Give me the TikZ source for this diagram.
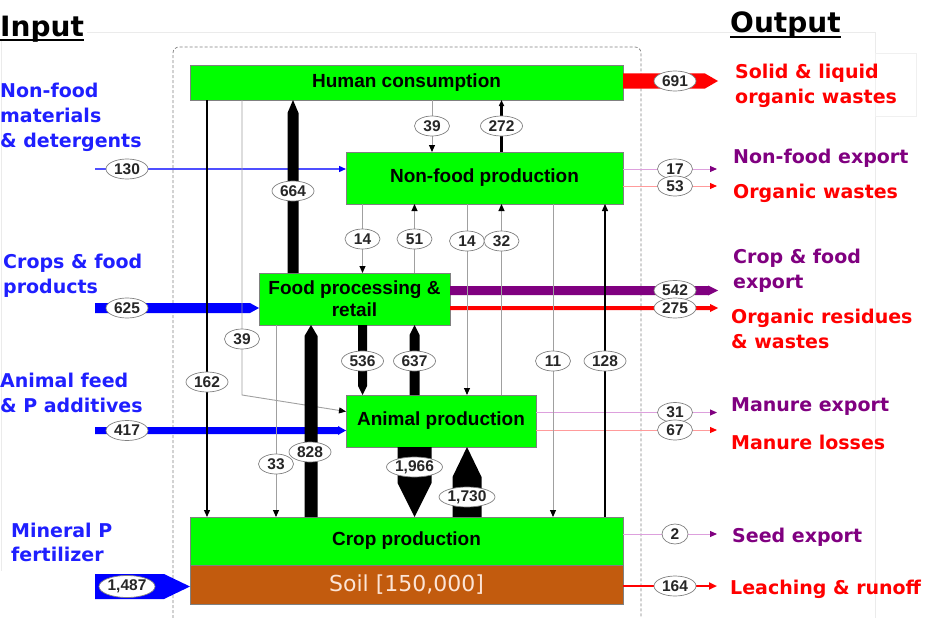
\documentclass[tikz,border=0pt]{standalone}
\usepackage{fontspec}
\setmainfont{Liberation Sans}
\newfontfamily\vfont{DejaVu Sans}
\usetikzlibrary{arrows.meta,calc,shapes.geometric}
\definecolor{gbox}{HTML}{00FF00}
\definecolor{soilc}{HTML}{C25B0E}
\definecolor{soilt}{HTML}{FCE4D6}
\definecolor{tblue}{HTML}{1F1FFF}
\definecolor{fblue}{HTML}{0000FF}
\definecolor{lblue}{HTML}{4F4FFF}
\definecolor{tred}{HTML}{FF0000}
\definecolor{tpurp}{HTML}{800080}
\definecolor{lpurp}{HTML}{DDA0DD}
\definecolor{lred}{HTML}{FF9B9B}
\definecolor{lgray}{HTML}{A0A0A0}
\definecolor{bgray}{HTML}{808080}
% #1 style, #2 start, #3 tip, #4 half width, #5 head length, #6 head half width
\newcommand\fatarrow[6]{%
  \coordinate (fah) at ($(#3)!#5!(#2)$);
  \fill[#1] ($(#2)!#4!90:(#3)$) -- ($(fah)!#4!90:(#3)$) -- ($(fah)!#6!90:(#3)$) -- (#3)
     -- ($(fah)!#6!-90:(#3)$) -- ($(fah)!#4!-90:(#3)$) -- ($(#2)!#4!-90:(#3)$) -- cycle;}
\begin{document}
\begin{tikzpicture}[x=1pt,y=-1pt,
  box/.style={draw=bgray, fill=gbox, line width=0.8pt, inner sep=0pt, outer sep=0pt,
    align=center, font=\bfseries\fontsize{19}{22}\selectfont},
  val/.style={ellipse, draw=bgray, fill=white, line width=0.7pt, inner sep=0pt,
    minimum height=20pt, minimum width=42pt, text=black!85,
    font=\bfseries\fontsize{15.5}{15.5}\selectfont},
  vals/.style={val, minimum width=35pt},
  valxs/.style={val, minimum width=26pt},
  valb/.style={val, minimum width=56pt},
  lab/.style={anchor=base west, inner sep=0pt, font=\vfont\bfseries\fontsize{19}{25}\selectfont},
  head/.style={anchor=base west, inner sep=0pt, font=\vfont\bfseries\fontsize{28}{30}\selectfont},
  gline/.style={draw=lgray, line width=0.9pt, -{Triangle[length=7pt,width=6pt,color=black]}},
  bline/.style={draw=black, line width=1.3pt, -{Triangle[length=7pt,width=6pt]}},
  pline/.style={draw=lpurp, line width=1pt, -{Triangle[length=7pt,width=6pt,color=tpurp]}},
  rline/.style={draw=lred, line width=1pt, -{Triangle[length=7pt,width=6pt,color=tred]}}
]
\useasboundingbox (0,0) rectangle (926,618);
% faint slide remnants
\draw[black!8, line width=0.6pt] (87,32) -- (875,32);
\draw[black!8, line width=0.6pt] (875,32) -- (875,618);
\draw[black!8, line width=0.6pt] (1,40) -- (1,571);
\filldraw[fill=white, draw=black!6, line width=0.6pt] (875,53) rectangle (916,116);
% dashed frame
\draw[bgray, line width=0.7pt, dash pattern=on 3pt off 2pt, rounded corners=6pt]
  (173,618) -- (173,47) -- (641,47) -- (641,618);

% headings
\node[head] (hin) at (0,37) {Input};
\draw[line width=2pt] ([yshift=-3.5pt]hin.base west) -- ([yshift=-3.5pt]hin.base east);
\node[head] (hout) at (730,33) {Output};
\draw[line width=2pt] ([yshift=-4.5pt]hout.base west) -- ([yshift=-4.5pt]hout.base east);

% boxes
\node[box, minimum width=433pt, minimum height=35pt] (hc) at (406.5,82.5) {Human consumption};
\node[box, minimum width=277pt, minimum height=52pt] (nf) at (484.5,178) {Non-food production};
\node[box, minimum width=191pt, minimum height=52pt] (fp) at (354.5,299) {Food processing \&\\retail};
\node[box, minimum width=190pt, minimum height=52pt] (an) at (441,421) {Animal production};
\node[box, minimum width=433pt, minimum height=48pt] (crop) at (406.5,541) {Crop production};
\node[box, fill=soilc, minimum width=433pt, minimum height=39pt, text=soilt,
  font=\vfont\fontsize{22}{24}\selectfont] (soil) at (406.5,584.5) {Soil [150,000]};

% left labels
\node[lab, text=tblue] (l1a) at (0,97) {Non-food};
\node[lab, text=tblue] (l1b) at (0,122) {materials};
\node[lab, text=tblue] (l1c) at (0,147) {\& detergents};
\node[lab, text=tblue] (l2a) at (3,268) {Crops \& food};
\node[lab, text=tblue] (l2b) at (3,293) {products};
\node[lab, text=tblue] (l3a) at (0,387) {Animal feed};
\node[lab, text=tblue] (l3b) at (0,412) {\& P additives};
\node[lab, text=tblue] (l4a) at (11,537) {Mineral P};
\node[lab, text=tblue] (l4b) at (11,561) {fertilizer};
% right labels
\node[lab, text=tred] (r1a) at (735,78) {Solid \& liquid};
\node[lab, text=tred] (r1b) at (735,103) {organic wastes};
\node[lab, text=tpurp] (r2) at (733,163) {Non-food export};
\node[lab, text=tred] (r3) at (733,198) {Organic wastes};
\node[lab, text=tpurp] (r4a) at (733,263) {Crop \& food};
\node[lab, text=tpurp] (r4b) at (733,288) {export};
\node[lab, text=tred] (r5a) at (731,323) {Organic residues};
\node[lab, text=tred] (r5b) at (731,348) {\& wastes};
\node[lab, text=tpurp] (r6) at (731,411) {Manure export};
\node[lab, text=tred] (r7) at (731,449) {Manure losses};
\node[lab, text=tpurp] (r8) at (732,542) {Seed export};
\node[lab, text=tred] (r9) at (730,594) {Leaching \& runoff};

% coordinates
\coordinate (s130) at (95,169);
\coordinate (s625) at (95,308);
\coordinate (s417) at (95,430.5);
\coordinate (s1487) at (95,586.5);
\coordinate (o691) at (718,81);
\coordinate (o17) at (717,169);
\coordinate (o53) at (717,186);
\coordinate (o542) at (718,290.5);
\coordinate (o275) at (718,308);
\coordinate (o31) at (717,412.5);
\coordinate (o67) at (717,430);
\coordinate (o2) at (717,534);
\coordinate (o164) at (717,586);
\coordinate (x162) at (207,0);
\coordinate (k39) at (242,395);
\coordinate (t39) at (0,411.5);
\coordinate (x33) at (276,0);
\coordinate (x664) at (293,0);
\coordinate (x828) at (311,0);
\coordinate (x363) at (362.5,0);
\coordinate (x414) at (414.5,0);
\coordinate (x432) at (432,0);
\coordinate (x467) at (467,0);
\coordinate (x501) at (501.5,0);
\coordinate (x553) at (553,0);
\coordinate (x605) at (605,0);

% input flows
\coordinate (e625) at (fp.west |- s625);
\fatarrow{fblue}{s625}{e625}{5pt}{9pt}{5pt}
\coordinate (e417) at (an.west |- s417);
\fatarrow{fblue}{s417}{e417}{3.5pt}{8pt}{4.5pt}
\coordinate (e1487) at (soil.west |- s1487);
\fatarrow{fblue}{s1487}{e1487}{12.5pt}{26pt}{12.5pt}
\draw[draw=lblue, line width=1.4pt, -{Triangle[length=7pt,width=6pt,color=fblue]}] (s130) -- (nf.west |- s130);

% output flows
\coordinate (b691) at (hc.east |- o691);
\fatarrow{tred}{b691}{o691}{7.5pt}{13pt}{7.5pt}
\coordinate (b542) at (fp.east |- o542);
\fatarrow{tpurp}{b542}{o542}{4.5pt}{10pt}{5pt}
\coordinate (b275) at (fp.east |- o275);
\fatarrow{tred}{b275}{o275}{2pt}{8pt}{4pt}
\draw[pline] (nf.east |- o17) -- (o17);
\draw[rline] (nf.east |- o53) -- (o53);
\draw[pline] (an.east |- o31) -- (o31);
\draw[rline] (an.east |- o67) -- (o67);
\draw[pline] (crop.east |- o2) -- (o2);
\draw[draw=tred, line width=2.2pt, -{Triangle[length=8pt,width=7pt]}] (soil.east |- o164) -- (o164);

% internal thin flows
\draw[bline] (hc.south -| x162) -- (crop.north -| x162);
\draw[gline] (hc.south -| k39) -- (k39) -- (an.west |- t39);
\draw[gline] (hc.south -| x432) -- (nf.north -| x432);
\draw[draw=black, line width=3pt, -{Triangle[length=6pt,width=5pt]}] (nf.north -| x501) -- (hc.south -| x501);
\draw[gline] (nf.south -| x363) -- (fp.north -| x363);
\draw[gline] (fp.north -| x414) -- (nf.south -| x414);
\draw[gline] (nf.south -| x467) -- (an.north -| x467);
\draw[gline] (an.north -| x501) -- (nf.south -| x501);
\draw[gline] (nf.south -| x553) -- (crop.north -| x553);
\draw[bline] (crop.north -| x605) -- (nf.south -| x605);
\draw[gline] (fp.south -| x33) -- (crop.north -| x33);

% internal thick flows
\coordinate (a664) at (fp.north -| x664);
\coordinate (b664) at (hc.south -| x664);
\fatarrow{black}{a664}{b664}{5.5pt}{13pt}{5.5pt}
\coordinate (a828) at (crop.north -| x828);
\coordinate (b828) at (fp.south -| x828);
\fatarrow{black}{a828}{b828}{6.5pt}{11pt}{6.5pt}
\coordinate (a536) at (fp.south -| x363);
\coordinate (b536) at (an.north -| x363);
\fatarrow{black}{a536}{b536}{4.5pt}{9pt}{4.5pt}
\coordinate (a637) at (an.north -| x414);
\coordinate (b637) at (fp.south -| x414);
\fatarrow{black}{a637}{b637}{5pt}{10pt}{5pt}
\coordinate (a1966) at (an.south -| x414);
\coordinate (b1966) at (crop.north -| x414);
\fatarrow{black}{a1966}{b1966}{17pt}{34pt}{17pt}
\coordinate (a1730) at (crop.north -| x467);
\coordinate (b1730) at (an.south -| x467);
\fatarrow{black}{a1730}{b1730}{14.5pt}{30pt}{14.5pt}

% values
\node[val] (v130) at (127,169) {130};
\node[val] (v625) at (127,308) {625};
\node[val] (v417) at (127,430.5) {417};
\node[valb, minimum height=22pt] (v1487) at (127,586.5) {1,487};
\node[val] (v691) at (675,81) {691};
\node[vals] (v17) at (675,169) {17};
\node[vals] (v53) at (675,186) {53};
\node[val] (v542) at (675,290.5) {542};
\node[val] (v275) at (675,308) {275};
\node[vals] (v31) at (675,412.5) {31};
\node[vals] (v67) at (675,430) {67};
\node[valxs] (v2) at (675,534) {2};
\node[val] (v164) at (675,586) {164};
\node[vals] (v39a) at (432,126) {39};
\node[val] (v272) at (501.5,126) {272};
\node[val] (v664) at (293,191) {664};
\node[vals] (v14a) at (362.5,239) {14};
\node[vals] (v51) at (414.5,239) {51};
\node[vals] (v14b) at (467,241) {14};
\node[vals] (v32) at (501.5,241) {32};
\node[vals] (v39b) at (242,339) {39};
\node[val] (v162) at (207,382) {162};
\node[val] (v536) at (362.5,361) {536};
\node[val] (v637) at (414.5,361) {637};
\node[vals] (v11) at (553,361) {11};
\node[val] (v128) at (605,361) {128};
\node[vals] (v33) at (276,464) {33};
\node[val] (v828) at (310,452) {828};
\node[valb] (v1966) at (414.5,467) {1,966};
\node[valb] (v1730) at (467,497) {1,730};
\end{tikzpicture}
\end{document}
